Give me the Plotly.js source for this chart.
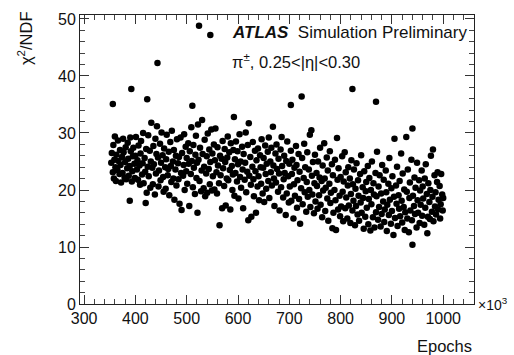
<!DOCTYPE html>
<html>
<head>
<meta charset="utf-8">
<script src="https://cdn.plot.ly/plotly-3.0.1.min.js"></script>
<style>html,body{margin:0;padding:0;background:#fff;}#chart{width:514px;height:355px;}</style>
</head>
<body>
<div id="chart"></div>
<script>
const epochs = [
353,354,356,356,357,358,359,360,361,362,363,365,366,367,369,370,371,372,374,375,376,377,379,380,381,382,384,385,386,387,389,389,390,391,392,393,394,395,396,398,399,
400,401,403,404,405,406,408,409,410,411,413,414,415,416,418,419,420,421,422,423,424,425,426,428,429,430,431,433,434,435,436,438,439,440,441,442,443,444,445,446,448,449,
450,451,453,454,455,456,458,459,460,461,463,464,465,466,468,469,470,471,473,474,475,476,478,479,480,481,483,484,485,486,488,489,490,491,493,494,495,496,498,499,
500,501,503,504,505,506,508,509,510,511,512,513,514,516,517,518,519,520,521,522,523,524,525,526,528,529,530,531,533,534,535,536,538,539,540,541,543,544,545,546,546,548,549,
550,551,553,554,555,556,558,559,560,561,563,564,565,566,568,569,570,571,573,574,575,576,578,579,580,581,583,584,585,586,588,589,590,591,592,593,594,595,596,598,599,
600,601,603,604,605,606,608,609,610,611,613,614,615,616,618,619,620,621,622,624,625,626,628,629,630,631,633,634,635,636,638,639,640,641,643,644,645,646,648,649,
650,651,653,654,655,656,658,659,660,661,663,664,665,666,668,669,670,671,673,674,675,676,678,679,680,681,683,684,685,686,688,689,690,691,693,694,695,696,698,699,
700,701,703,703,704,705,706,708,709,710,711,713,714,715,716,718,719,720,721,723,724,725,726,728,729,730,731,733,734,735,736,738,739,740,741,743,744,745,746,748,749,
750,751,753,754,755,756,758,759,760,761,763,764,765,766,768,769,770,771,773,774,775,776,778,779,780,781,783,784,785,786,788,789,790,791,793,794,795,796,798,799,
800,801,803,804,805,806,808,809,810,811,813,814,815,816,818,819,820,821,823,823,824,825,826,828,829,830,831,833,834,835,836,838,839,840,841,843,844,845,846,848,849,
850,851,853,854,855,856,858,859,860,861,863,864,865,866,868,869,869,870,871,873,874,875,876,878,879,880,881,883,884,885,886,888,889,890,891,893,894,895,896,898,899,
900,901,903,904,905,906,908,909,910,911,913,914,915,916,918,919,920,921,923,924,925,926,928,929,930,931,933,934,935,936,938,939,940,940,941,943,944,945,946,948,949,
950,951,953,954,955,956,958,959,960,961,963,964,965,966,968,969,970,971,973,974,975,976,978,979,980,981,983,984,985,986,988,989,990,991,993,994,995,996,998,999,1000
];
const chi2ndf = [
24.8,26.5,35.1,23.1,27.9,22.0,25.3,29.4,24.0,21.6,26.2,23.5,28.7,25.1,22.8,27.0,24.4,21.3,25.8,23.0,29.0,26.6,22.2,24.9,27.5,21.9,23.8,28.3,25.5,22.5,18.1,24.2,29.2,26.8,37.7,21.5,23.3,25.9,27.4,24.6,22.1,
26.0,29.3,23.6,25.2,21.8,27.8,24.3,20.9,26.4,28.6,22.7,24.7,30.0,21.2,25.6,23.2,17.7,27.2,19.5,35.9,24.1,29.6,22.4,26.9,20.4,25.0,31.8,23.9,21.0,27.7,24.5,19.2,29.0,22.9,26.3,31.2,42.3,25.7,20.6,23.4,28.1,21.7,
24.8,30.1,26.1,22.3,19.7,27.3,24.0,20.2,25.4,29.7,22.6,23.7,26.7,19.1,28.4,24.2,21.4,30.4,25.0,22.0,27.0,18.3,23.6,26.0,20.8,28.9,24.7,21.9,25.8,17.6,29.2,23.0,16.5,26.5,22.5,24.4,29.8,20.0,27.6,23.3,
25.6,21.1,28.2,24.6,17.2,26.8,22.8,31.0,25.1,34.8,20.5,27.9,23.9,19.3,26.2,29.5,22.1,24.8,16.0,31.5,25.3,48.8,21.6,27.4,19.8,23.4,32.3,26.3,20.3,24.1,28.8,18.9,22.9,25.9,19.5,29.9,23.7,27.1,21.0,47.2,24.9,30.6,19.9,
26.4,22.4,28.0,20.1,25.2,30.8,23.1,19.4,27.5,24.3,21.2,13.8,26.0,22.6,25.5,16.8,28.6,23.8,20.7,27.2,24.9,17.3,22.0,25.7,29.4,21.7,26.6,23.5,16.6,28.2,24.2,20.0,22.7,27.0,32.8,19.0,25.4,23.0,28.5,21.5,26.8,
24.5,18.5,29.8,22.3,25.0,20.4,27.6,23.6,16.8,26.3,21.8,24.8,30.1,19.6,23.2,27.9,14.7,31.7,22.5,25.8,20.9,15.3,24.1,28.4,21.9,18.9,26.9,23.3,16.0,25.2,20.6,27.3,22.4,18.2,26.1,24.0,21.1,28.9,19.4,23.9,
25.6,17.9,27.8,22.8,20.2,24.6,26.7,21.6,29.2,18.6,25.0,23.1,27.4,20.8,31.1,24.3,22.0,17.2,26.4,21.3,28.0,23.7,19.7,25.5,22.9,16.4,27.1,20.5,29.3,24.2,18.7,21.9,26.0,23.0,15.6,25.1,19.4,28.5,22.4,17.8,
24.6,20.6,34.9,26.9,18.1,22.8,25.3,15.0,21.0,23.9,19.0,27.7,24.4,16.9,21.7,26.3,18.4,23.2,14.1,20.3,36.4,25.6,17.5,22.1,28.1,19.6,24.0,16.2,21.4,26.6,18.8,23.6,20.0,29.7,17.0,30.5,22.5,19.2,24.9,15.9,21.2,
26.2,18.0,23.0,20.7,16.7,25.0,19.1,22.2,27.4,17.4,21.6,15.2,24.3,19.9,28.2,22.0,16.3,20.4,25.7,18.5,23.4,14.6,21.1,26.8,17.7,19.5,24.5,13.3,22.6,16.0,20.0,25.3,18.2,13.0,29.1,21.8,16.6,23.8,19.0,15.4,
22.3,17.1,25.9,19.7,14.5,21.5,26.6,16.8,23.1,18.7,15.0,20.8,24.0,17.3,22.0,14.2,19.3,25.2,37.7,16.4,21.0,18.1,23.6,13.8,20.2,17.2,24.7,15.7,21.7,19.0,14.6,22.8,17.8,26.1,16.0,20.5,18.6,13.2,23.3,15.3,19.8,
21.4,16.9,24.2,14.0,18.4,22.1,12.9,20.0,17.5,25.0,15.2,21.2,19.2,13.4,23.0,35.5,16.1,18.9,26.7,14.8,20.6,17.0,22.6,13.6,19.4,15.8,24.4,18.0,21.8,14.4,16.6,23.4,19.6,12.8,17.4,21.1,15.6,25.6,18.3,14.1,20.3,
16.3,22.4,12.1,18.8,29.0,15.1,20.8,17.6,24.1,13.7,19.1,16.7,21.6,15.4,26.4,18.1,14.3,22.9,17.0,20.1,13.0,16.1,29.3,19.7,15.0,23.6,12.6,18.6,21.3,16.4,25.3,14.7,30.8,10.4,19.0,17.2,22.2,15.8,20.4,13.4,24.8,
18.2,16.0,21.7,14.2,19.9,17.4,23.4,15.5,20.6,18.5,13.9,22.0,16.9,24.5,19.3,12.4,15.3,21.2,17.9,14.9,20.0,26.0,16.2,18.8,27.1,14.5,22.6,17.1,19.6,15.7,21.4,23.1,16.6,18.3,20.7,15.0,17.5,22.8,19.2,16.4,18.6
];
const xTitle = "Epochs";
const yTitle = "χ<sup>2</sup>/NDF";
const label1 = "<b><i>ATLAS</i></b>  Simulation Preliminary";
const label2 = "π<sup>±</sup>, 0.25<|η|<0.30";

const font = "Liberation Sans, Arial, Helvetica, sans-serif";
const trace = {
  x: epochs, y: chi2ndf, type: 'scatter', mode: 'markers',
  marker: {color: '#000', size: 6.5}, hoverinfo: 'skip'
};
const axisBase = {
  ticks: 'inside', mirror: 'allticks', showline: true, linecolor: '#222', linewidth: 1,
  tickcolor: '#333', showgrid: false, zeroline: false,
  tickfont: {family: font, size: 16, color: '#111'}
};
const layout = {
  width: 514, height: 355,
  margin: {l: 80, r: 40, t: 15, b: 51},
  paper_bgcolor: '#fff', plot_bgcolor: '#fff',
  showlegend: false,
  font: {family: font, color: '#111'},
  xaxis: Object.assign({}, axisBase, {
    range: [292, 1060], tick0: 300, dtick: 100, ticklen: 9,
    minor: {ticks: 'inside', dtick: 20, tick0: 300, ticklen: 5, tickcolor: '#444', showgrid: false}
  }),
  yaxis: Object.assign({}, axisBase, {
    range: [0, 50.7], tick0: 0, dtick: 10, ticklen: 9,
    minor: {ticks: 'inside', dtick: 2, tick0: 0, ticklen: 5, tickcolor: '#444', showgrid: false}
  }),
  annotations: [
    {xref: 'paper', yref: 'paper', x: 0.381, y: 0.938, xanchor: 'left', yanchor: 'middle',
     text: label1, showarrow: false, font: {family: font, size: 17, color: '#111'}},
    {xref: 'paper', yref: 'paper', x: 0.381, y: 0.842, xanchor: 'left', yanchor: 'middle',
     text: label2, showarrow: false, font: {family: font, size: 16.5, color: '#111'}},
    {xref: 'paper', yref: 'paper', x: 1.0, y: -0.145, xanchor: 'right', yanchor: 'middle',
     text: xTitle, showarrow: false, font: {family: font, size: 16.5, color: '#111'}},
    {xref: 'paper', yref: 'paper', x: -0.14, y: 1.02, xanchor: 'center', yanchor: 'top',
     text: yTitle, textangle: -90, showarrow: false, font: {family: font, size: 16.5, color: '#111'}},
    {xref: 'paper', yref: 'paper', x: 1.005, y: 0.0, xanchor: 'left', yanchor: 'middle',
     text: "×10<sup>3</sup>", showarrow: false, font: {family: font, size: 14, color: '#111'}}
  ]
};
Plotly.newPlot('chart', [trace], layout, {staticPlot: true, displayModeBar: false});
</script>
</body>
</html>
